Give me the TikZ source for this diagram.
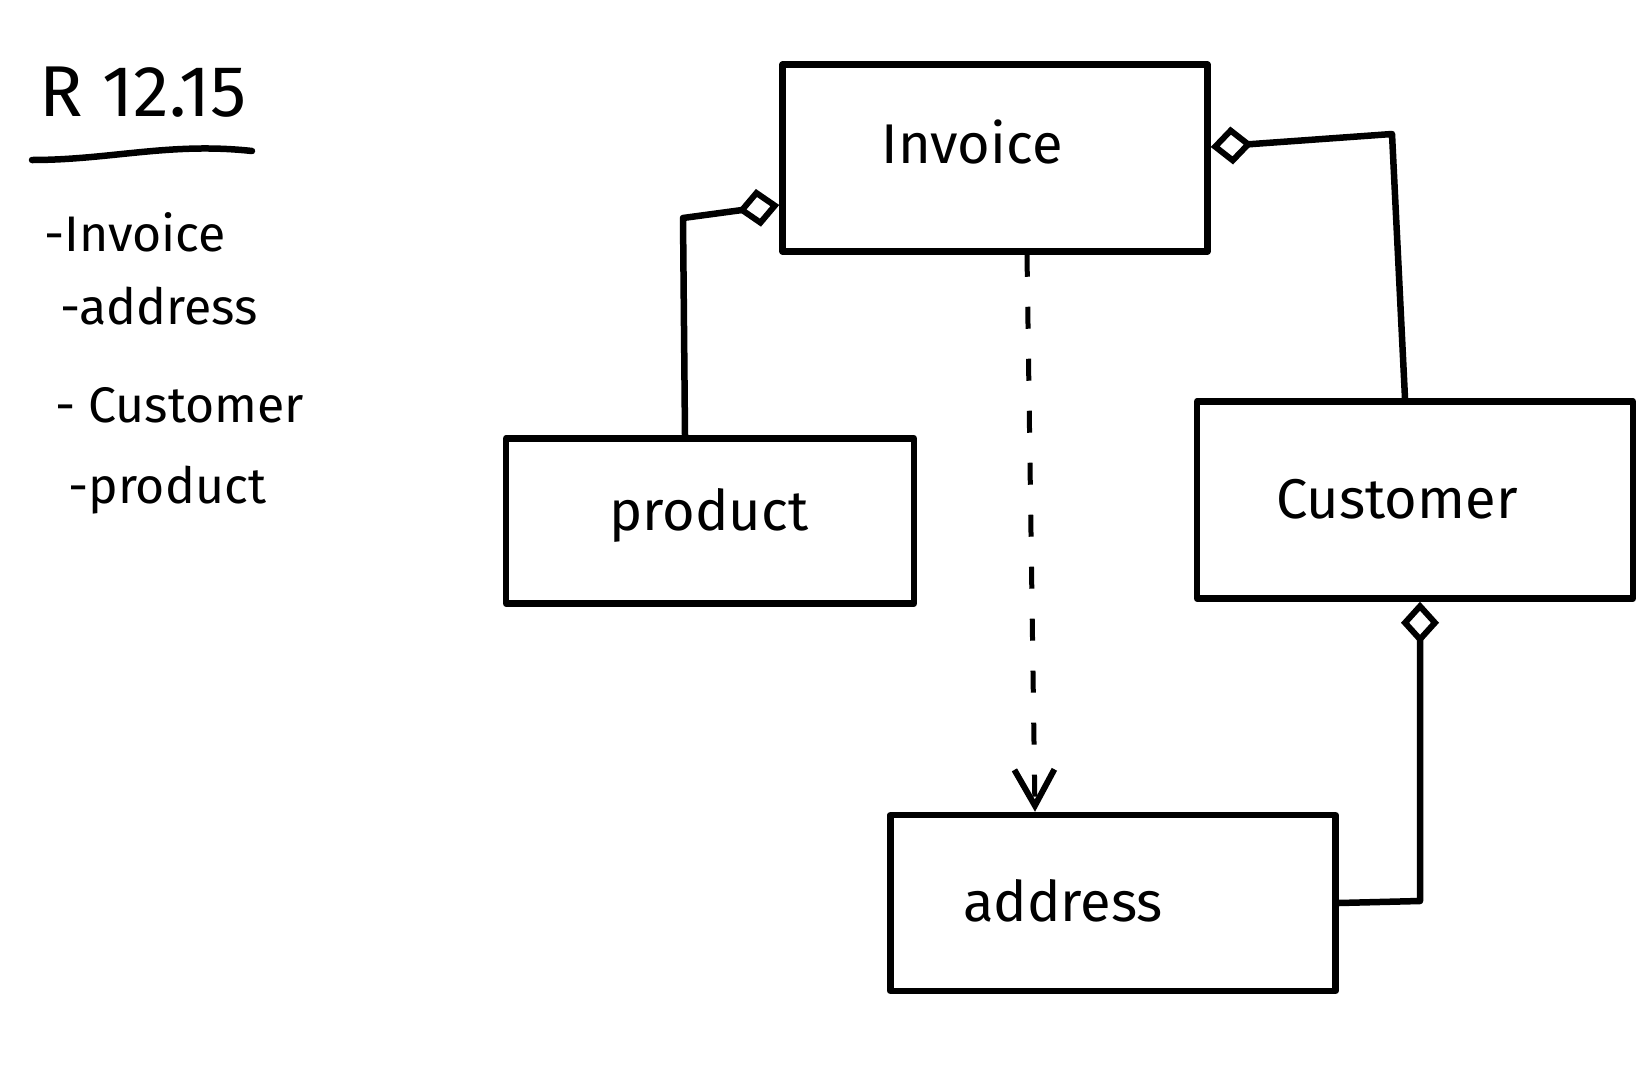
\documentclass[tikz,border=0pt]{standalone}
\usepackage{fontspec}
\setmainfont{Fira Sans}
\usetikzlibrary{arrows.meta}
\begin{document}
\begin{tikzpicture}[x=1pt,y=-1pt,
  ink/.style={line width=6.5pt, line cap=round, line join=round},
  cls/.style={draw, ink, rectangle, inner sep=0pt},
  lbl/.style={inner sep=0pt, font=\fontsize{56}{64}\selectfont},
  item/.style={anchor=west, inner sep=0pt, font=\fontsize{50}{58}\selectfont},
  agg/.style={ink, -{Diamond[open, length=42pt, width=38pt, line width=6pt]}},
  dep/.style={ink, line width=5pt, line cap=butt, dash pattern=on 22pt off 30pt, -{Straight Barb[length=36pt, width=40pt, line width=6pt]}}
]
\fill[white] (0,0) rectangle (1647,1074);
\useasboundingbox (0,0) rectangle (1647,1074);

% title and list
\node[inner sep=0pt, font=\fontsize{72}{80}\selectfont] (title) at (143,92) {R 12.15};
\draw[ink] (32,160) .. controls (110,160) and (170,142) .. (252,151);
\node[item] (l1) at (44,232) {-Invoice};
\node[item] (l2) at (60,306) {-address};
\node[item] (l3) at (55,405) {- Customer};
\node[item] (l4) at (68,490) {-product};

% classes
\node[cls, minimum width=425pt, minimum height=187pt] (invoice) at (995,158) {};
\node[cls, minimum width=408pt, minimum height=165pt] (product) at (710,521) {};
\node[cls, minimum width=436pt, minimum height=197pt] (customer) at (1415,500) {};
\node[cls, minimum width=445pt, minimum height=176pt] (address) at (1113,903) {};
\node[lbl] (invoiceT) at (972,142) {Invoice};
\node[lbl] (productT) at (709,515) {product};
\node[lbl] (customerT) at (1397,499) {Customer};
\node[lbl] (addressT) at (1063,901) {address};

% connectors
\draw[agg] ([xshift=-25pt]product.north) -- (683,218) -- ([yshift=-47pt]invoice.west);
\draw[agg] ([xshift=-10pt]customer.north) -- (1392,134) -- ([yshift=11pt]invoice.east);
\draw[agg] (address.east) -- (1420,901) -- ([xshift=5pt]customer.south);
\draw[dep] ([xshift=32pt]invoice.south) -- ([xshift=-78pt]address.north);
\end{tikzpicture}
\end{document}
